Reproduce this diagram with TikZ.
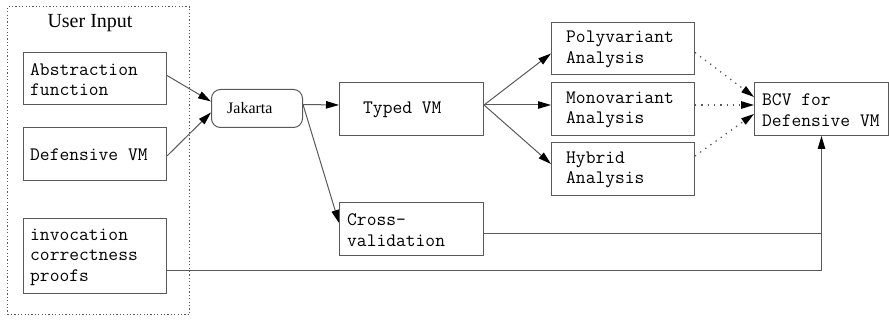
\documentclass[tikz,border=0pt]{standalone}
\usepackage{fontspec}
\setmainfont{Liberation Serif}
\usetikzlibrary{arrows.meta,calc}
\begin{document}
\begin{tikzpicture}[x=1pt,y=-1pt,
  box/.style={draw=black!65,line width=1pt,rectangle,inner sep=0pt,anchor=north west},
  txt/.style={anchor=west,inner sep=0pt,align=left,font=\ttfamily\fontsize{19}{20.5}\selectfont},
  conn/.style={draw=black!65,line width=1pt,-{Triangle[length=13pt,width=7.5pt,color=black]}},
  dconn/.style={conn,line width=1.3pt,dash pattern=on 1.3pt off 5pt},
  plain/.style={draw=black!65,line width=1pt}]
\useasboundingbox (0,0) rectangle (889,320);
% frame
\node[draw=black!65,line width=1.2pt,dash pattern=on 1.2pt off 2.2pt,rectangle,inner sep=0pt,anchor=north west,minimum width=182pt,minimum height=308pt] (frame) at (7,6) {};
\node[font=\fontsize{20}{24}\selectfont,inner sep=0pt] (ui) at (90,23) {User Input};
% boxes
\node[box,minimum width=143pt,minimum height=52pt] (abs) at (23,52) {};
\node[box,minimum width=143pt,minimum height=53pt] (def) at (23,127) {};
\node[box,minimum width=143pt,minimum height=75pt] (inv) at (23,218) {};
\node[box,rounded corners=9pt,minimum width=91pt,minimum height=38pt] (jak) at (211,89) {};
\node[box,minimum width=144pt,minimum height=53pt] (typed) at (339,82) {};
\node[box,minimum width=144pt,minimum height=53pt] (cross) at (339,202) {};
\node[box,minimum width=143pt,minimum height=52pt] (poly) at (551,22) {};
\node[box,minimum width=143pt,minimum height=53pt] (mono) at (551,82) {};
\node[box,minimum width=143pt,minimum height=53pt] (hyb) at (551,142) {};
\node[box,minimum width=134pt,minimum height=53pt] (bcv) at (754,82) {};
% texts
\node[txt] (tabs) at ([xshift=7pt,yshift=-1pt]abs.west) {Abstraction\\function};
\node[txt] (tdef) at ([xshift=7pt,yshift=-1pt]def.west) {Defensive VM};
\node[txt] (tinv) at ([xshift=7pt,yshift=-1pt]inv.west) {invocation\\correctness\\proofs};
\node[anchor=west,inner sep=0pt,font=\fontsize{16}{19}\selectfont] (tjak) at ([xshift=16pt]jak.west) {Jakarta};
\node[txt] (ttyped) at ([xshift=24pt,yshift=-1pt]typed.west) {Typed VM};
\node[txt] (tcross) at ([xshift=8pt,yshift=-1pt]cross.west) {Cross-\\validation};
\node[txt] (tpoly) at ([xshift=15pt,yshift=-1pt]poly.west) {Polyvariant\\Analysis};
\node[txt] (tmono) at ([xshift=15pt,yshift=-1pt]mono.west) {Monovariant\\Analysis};
\node[txt] (thyb) at ([xshift=15pt,yshift=-1pt]hyb.west) {Hybrid\\Analysis};
\node[txt] (tbcv) at ([xshift=8pt,yshift=-1pt]bcv.west) {BCV for\\Defensive VM};
% connectors
\draw[conn] ([yshift=3pt]abs.east) -- ([yshift=7pt]jak.west);
\draw[conn] ([yshift=-2pt]def.east) -- ([yshift=-4pt]jak.west);
\draw[conn] ([yshift=4pt]jak.east) -- ([yshift=4pt]typed.west);
\draw[conn] ([yshift=4pt]jak.east) -- ([yshift=6pt]cross.west);
\draw[conn] ([yshift=4pt]typed.east) -- ([yshift=-5pt]poly.west);
\draw[conn] ([yshift=4pt]typed.east) -- ([yshift=4pt]mono.west);
\draw[conn] ([yshift=4pt]typed.east) -- ([yshift=5pt]hyb.west);
\draw[dconn] ([yshift=-4pt]poly.east) -- ([yshift=12pt]bcv.west);
\draw[dconn] ([yshift=4pt]mono.east) -- ([yshift=4pt]bcv.west);
\draw[dconn] ([yshift=13pt]hyb.east) -- ([yshift=-5pt]bcv.west);
\coordinate (j1) at (bcv.south |- {$(cross.east)+(0,4.5)$});
\draw[plain] ([yshift=-4.5pt]cross.east) -- (j1);
\draw[conn] ([yshift=-14.5pt]inv.east) -| (bcv.south);
\end{tikzpicture}
\end{document}
